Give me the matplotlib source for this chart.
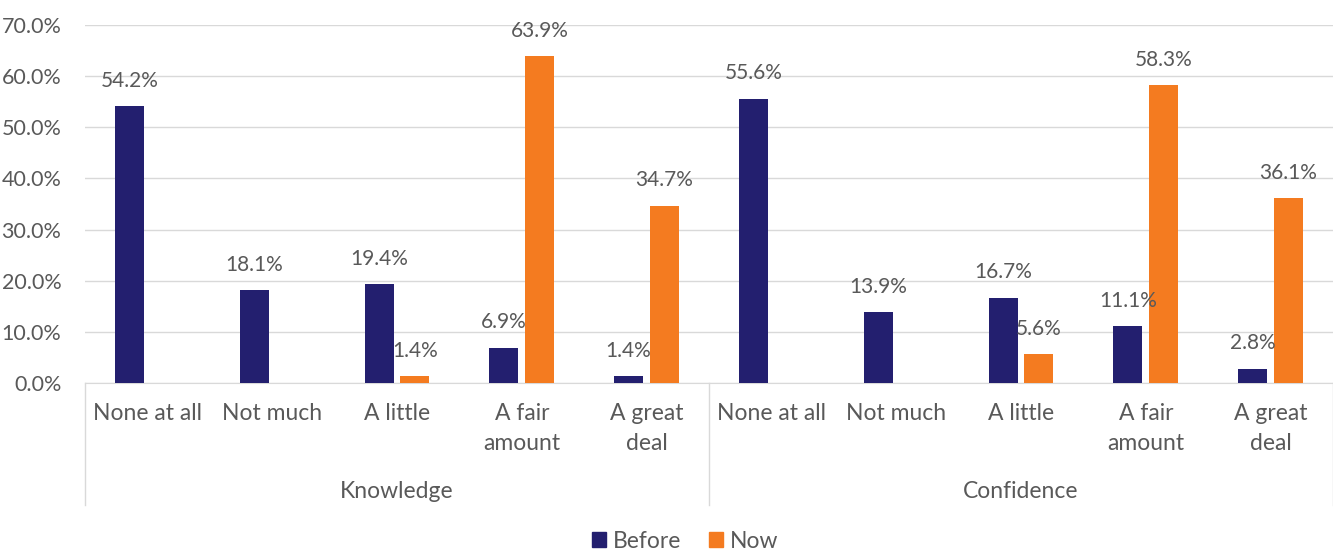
import numpy as np
import matplotlib.pyplot as plt
from matplotlib.patches import Patch

plt.rcParams['font.family'] = ['Lato', 'DejaVu Sans']

groups = ["Knowledge", "Confidence"]
categories = ["None at all", "Not much", "A little", "A fair\namount", "A great\ndeal"]
before = [54.2, 18.1, 19.4, 6.9, 1.4, 55.6, 13.9, 16.7, 11.1, 2.8]
now = [np.nan, np.nan, 1.4, 63.9, 34.7, np.nan, np.nan, 5.6, 58.3, 36.1]

navy = "#231f6f"
orange = "#f47b20"
grey = "#595959"

fig = plt.figure(figsize=(13.33, 5.51), dpi=100)
ax = fig.add_axes([85 / 1333, 1 - 383 / 551, 1 - 85 / 1333, (383 - 25) / 551])

x = np.arange(len(before))
w = 0.232
off = 0.144
ax.bar(x - off, before, w, color=navy, zorder=3)
ax.bar(x + off, now, w, color=orange, zorder=3)

for xi, v in zip(x, before):
    ax.annotate(f"{v:.1f}%", (xi - off, v), xytext=(0, 11), textcoords="offset points",
                ha="center", va="bottom", fontsize=15, color=grey)
for xi, v in zip(x, now):
    if np.isnan(v):
        continue
    ax.annotate(f"{v:.1f}%", (xi + off, v), xytext=(0, 11), textcoords="offset points",
                ha="center", va="bottom", fontsize=15, color=grey)

ax.set_xlim(-0.5, len(before) - 0.5)
ax.set_ylim(0, 70)
ax.set_yticks(np.arange(0, 71, 10))
ax.set_yticklabels([f"{t:.1f}%" for t in np.arange(0, 71, 10)], fontsize=15.5, color=grey)
ax.tick_params(axis="y", length=0, pad=17)
ax.tick_params(axis="x", length=0)
ax.set_xticks([])
ax.grid(axis="y", color="#d9d9d9", linewidth=1, zorder=0)
for s in ["top", "right", "left"]:
    ax.spines[s].set_visible(False)
ax.spines["bottom"].set_color("#d9d9d9")

# two-level category axis below the bars
trans = ax.get_xaxis_transform()
for i in range(len(before)):
    ax.text(i, -0.056, categories[i % len(categories)], transform=trans, ha="center", va="top",
            fontsize=16.5, color=grey, linespacing=1.5)
for g, name in enumerate(groups):
    ax.text(g * 5 + 2, -0.273, name, transform=trans, ha="center", va="top", fontsize=16.5, color=grey)
for xs in [-0.5, 4.5, 9.5]:
    ax.plot([xs, xs], [0, -0.34], transform=trans, color="#d9d9d9", linewidth=1, clip_on=False)

handles = [Patch(color=navy, label="Before"), Patch(color=orange, label="Now")]
fig.legend(handles=handles, loc="center", bbox_to_anchor=(0.514, 1 - 541 / 551), ncol=2,
           frameon=False, fontsize=16.5, handlelength=0.6, handleheight=0.6, handletextpad=0.3,
           columnspacing=1.2, labelcolor=grey)

fig.savefig("out.png", dpi=100)
